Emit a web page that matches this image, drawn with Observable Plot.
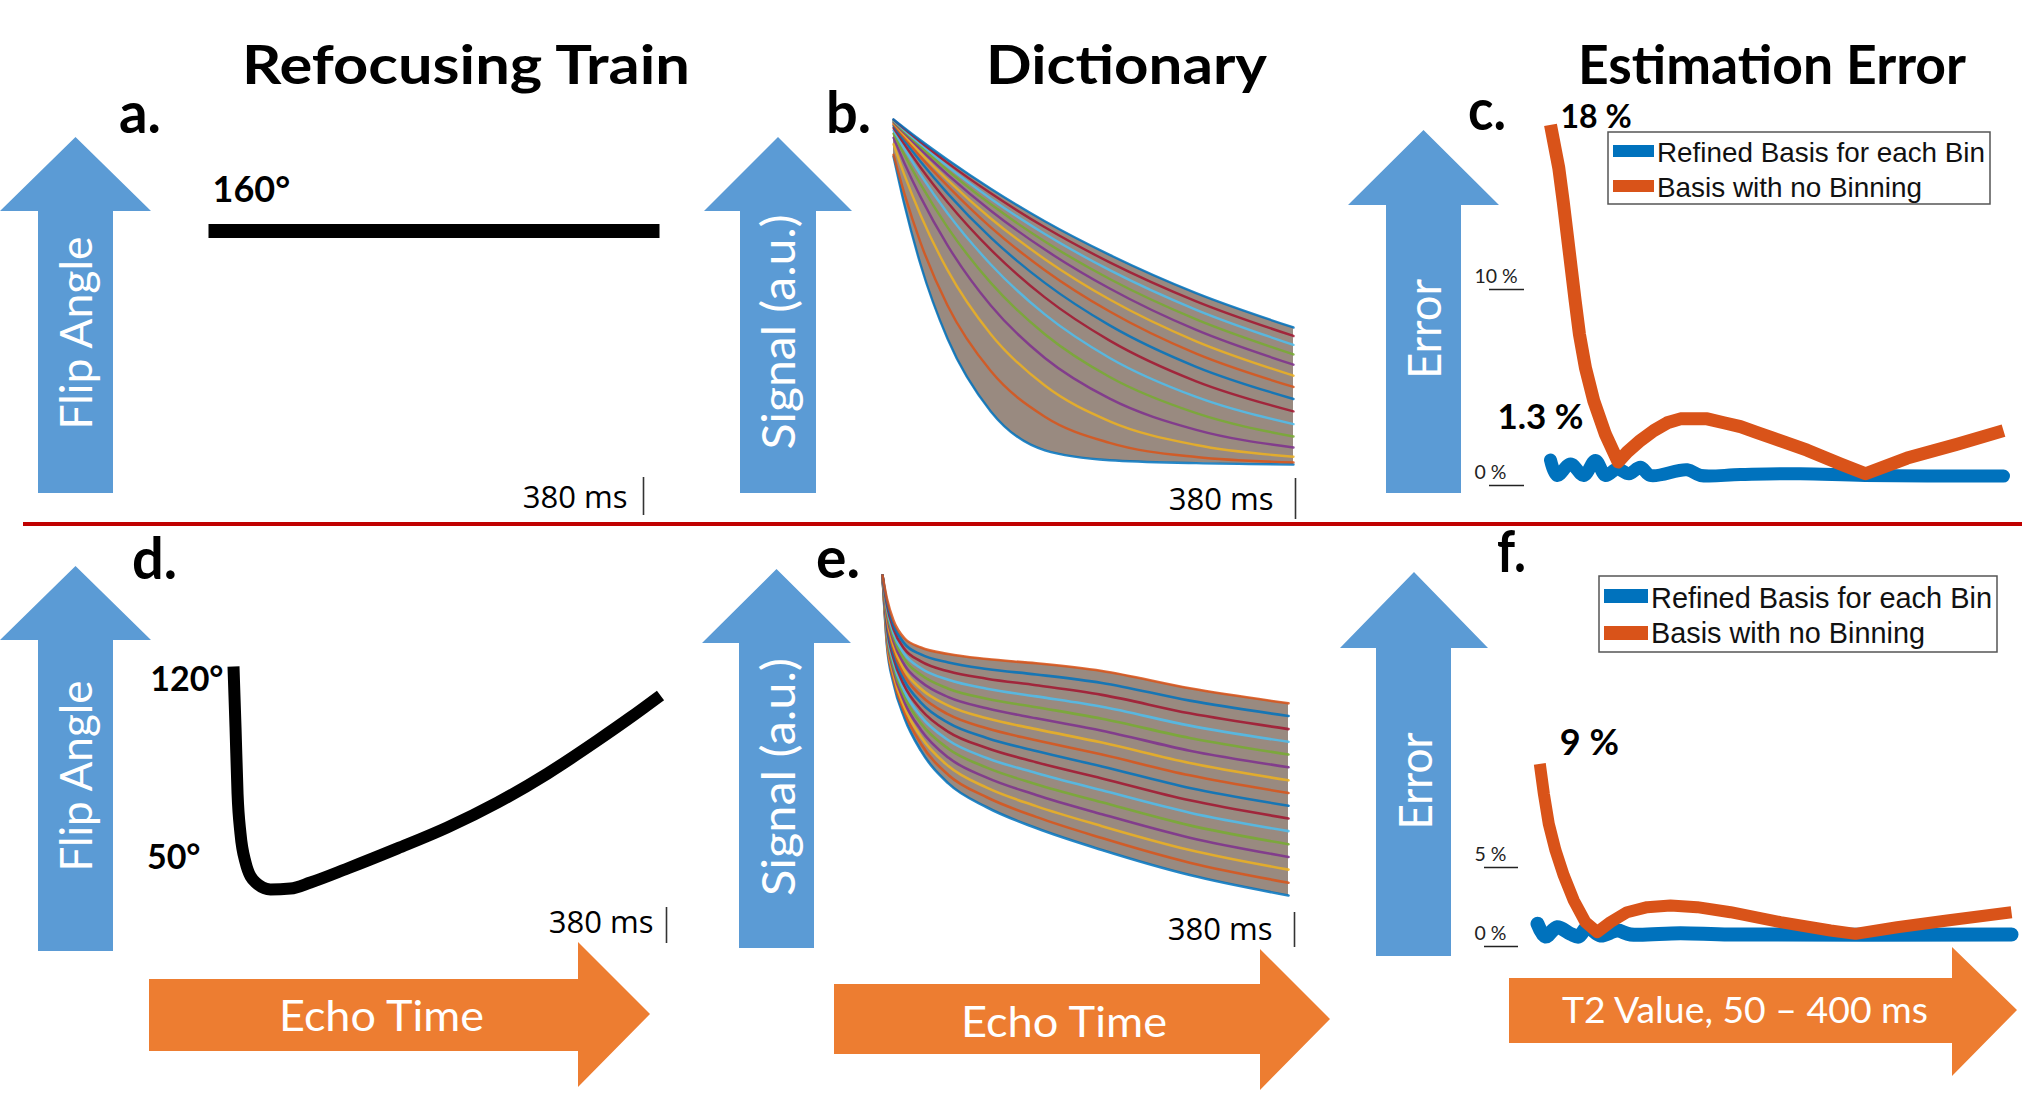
<!DOCTYPE html>
<html>
<head>
<meta charset="utf-8">
<script src="https://cdn.jsdelivr.net/npm/d3@7"></script>
<script src="https://cdn.jsdelivr.net/npm/@observablehq/plot@0.6"></script>
<style>
  html, body { margin: 0; padding: 0; background: #ffffff; }
  #fig { position: relative; width: 2043px; height: 1102px; overflow: hidden; background: #ffffff; }
  #fig > svg { position: absolute; left: 0; top: 0; max-width: none; }
</style>
</head>
<body>
<div id="fig"></div>
<script>
// ---------------- DATA ----------------
// a. constant refocusing train
const echoTimeA = [0, 380];
const flipAngleA = [160, 160];

// d. variable refocusing train
const echoTimeD = [0, 1.8, 3.6, 6.2, 10.7, 19.6, 32.9, 50.7, 68.5, 101.4, 146, 190.4, 235, 279.4, 324, 353.3, 380];
const flipAngleD = [120, 100.9, 80.1, 67.6, 58.5, 52.2, 50, 50.3, 52.2, 56.6, 62.9, 69.5, 77.3, 86.4, 96.8, 104, 110.9];

// b. dictionary for the constant train (one row per T2 entry, 50 .. 400 ms)
const dictTimesB = [10, 20, 35, 60, 100, 150, 210, 290, 380];
const dictCurvesB = [
  [0.870, 0.735, 0.565, 0.355, 0.150, 0.040, 0.012, 0.004, 0.000],
  [0.875, 0.766, 0.627, 0.449, 0.264, 0.135, 0.061, 0.021, 0.006],
  [0.905, 0.819, 0.705, 0.549, 0.368, 0.223, 0.122, 0.055, 0.022],
  [0.923, 0.852, 0.756, 0.619, 0.449, 0.301, 0.186, 0.098, 0.048],
  [0.935, 0.875, 0.792, 0.670, 0.513, 0.368, 0.247, 0.145, 0.079],
  [0.944, 0.892, 0.819, 0.710, 0.565, 0.424, 0.301, 0.191, 0.114],
  [0.951, 0.905, 0.839, 0.741, 0.607, 0.472, 0.350, 0.235, 0.150],
  [0.957, 0.915, 0.856, 0.766, 0.641, 0.513, 0.393, 0.276, 0.185],
  [0.961, 0.923, 0.869, 0.787, 0.670, 0.549, 0.432, 0.313, 0.219],
  [0.964, 0.930, 0.880, 0.804, 0.695, 0.580, 0.466, 0.348, 0.251],
  [0.967, 0.936, 0.890, 0.819, 0.717, 0.607, 0.497, 0.380, 0.282],
  [0.970, 0.940, 0.898, 0.831, 0.735, 0.630, 0.524, 0.410, 0.311],
  [0.972, 0.944, 0.905, 0.842, 0.751, 0.651, 0.549, 0.437, 0.338],
  [0.974, 0.948, 0.911, 0.852, 0.766, 0.670, 0.571, 0.461, 0.363],
  [0.975, 0.951, 0.916, 0.861, 0.779, 0.687, 0.592, 0.484, 0.387]
];

// e. dictionary for the variable train
const dictTimesE = [10, 14, 20, 30, 45, 70, 105, 150, 210, 290, 380];
const dictCurvesE = [
  [1, 0.820, 0.720, 0.630, 0.545, 0.460, 0.398, 0.344, 0.287, 0.222, 0.169],
  [1, 0.828, 0.731, 0.644, 0.563, 0.482, 0.424, 0.373, 0.318, 0.254, 0.202],
  [1, 0.836, 0.742, 0.658, 0.581, 0.505, 0.449, 0.401, 0.349, 0.287, 0.236],
  [1, 0.844, 0.753, 0.671, 0.599, 0.527, 0.475, 0.430, 0.380, 0.319, 0.269],
  [1, 0.852, 0.763, 0.685, 0.616, 0.550, 0.501, 0.458, 0.411, 0.351, 0.302],
  [1, 0.860, 0.774, 0.699, 0.634, 0.572, 0.526, 0.487, 0.442, 0.384, 0.336],
  [1, 0.868, 0.785, 0.713, 0.652, 0.594, 0.552, 0.515, 0.473, 0.416, 0.369],
  [1, 0.876, 0.796, 0.727, 0.670, 0.617, 0.578, 0.544, 0.504, 0.448, 0.402],
  [1, 0.884, 0.807, 0.740, 0.688, 0.639, 0.603, 0.572, 0.535, 0.481, 0.435],
  [1, 0.892, 0.818, 0.754, 0.706, 0.662, 0.629, 0.601, 0.566, 0.513, 0.468],
  [1, 0.900, 0.829, 0.768, 0.724, 0.684, 0.655, 0.629, 0.597, 0.545, 0.502],
  [1, 0.908, 0.840, 0.782, 0.742, 0.706, 0.680, 0.658, 0.628, 0.578, 0.535],
  [1, 0.916, 0.850, 0.796, 0.759, 0.729, 0.706, 0.686, 0.659, 0.610, 0.568],
  [1, 0.924, 0.861, 0.809, 0.777, 0.751, 0.732, 0.715, 0.690, 0.642, 0.601],
  [1, 0.932, 0.872, 0.823, 0.795, 0.774, 0.757, 0.743, 0.721, 0.675, 0.635],
  [1, 0.940, 0.883, 0.837, 0.813, 0.796, 0.783, 0.772, 0.752, 0.707, 0.668]
];

// c. estimation error, constant train (T2 in ms, error in %)
const t2RefinedC = [50, 55.2, 65.5, 75.7, 84.8, 92.5, 101.5, 110.5, 119.5, 127.3, 155.6, 165.9, 196.8, 243, 293, 400];
const errRefinedC = [1.3, 0.51, 1.1, 0.51, 1.28, 0.51, 0.85, 0.6, 0.93, 0.51, 0.8, 0.51, 0.56, 0.6, 0.51, 0.48];
const t2NoBinC = [50, 56.4, 59.8, 62.9, 66, 69.1, 72.4, 77, 83.5, 92.5, 102.3, 109.2, 119.5, 129.8, 140.2, 150.4, 160.7, 171.1, 183.9, 196.8, 209.7, 222.5, 248.3, 274.1, 293.4, 325.6, 364.2, 400];
const errNoBinC = [18.4, 16.2, 14.5, 12.8, 11.1, 9.4, 7.7, 6.0, 4.3, 2.6, 1.2, 1.7, 2.3, 2.8, 3.2, 3.4, 3.4, 3.4, 3.2, 3.0, 2.7, 2.4, 1.8, 1.1, 0.6, 1.4, 2.1, 2.8];

// f. estimation error, variable train
const t2RefinedF = [50, 55.9, 64.5, 74.4, 80.5, 86.7, 96.5, 108.9, 118.7, 155.6, 192.5, 400];
const errRefinedF = [1.44, 0.63, 1.22, 0.8, 0.63, 1.22, 0.7, 1.01, 0.76, 0.84, 0.76, 0.76];
const t2NoBinF = [51.7, 54.7, 58.3, 63.3, 69.4, 76.8, 85.4, 94.1, 103.9, 116.2, 131, 148.2, 167.9, 192.5, 229.4, 266.4, 284.8, 315.6, 352.5, 400];
const errNoBinF = [11.56, 9.66, 7.77, 6.08, 4.49, 2.91, 1.54, 0.91, 1.54, 2.17, 2.49, 2.59, 2.49, 2.17, 1.54, 1.01, 0.8, 1.22, 1.65, 2.17];

// labels
const seriesNames = ["Refined Basis for each Bin", "Basis with no Binning"];
const seriesColors = ["#0072BD", "#D95319"];
const dictColors = ["#0072BD", "#D95319", "#EDB120", "#7E2F8E", "#77AC30", "#4DBEEE", "#A2142F"];
const columnTitles = ["Refocusing Train", "Dictionary", "Estimation Error"];
const panelLetters = ["a.", "b.", "c.", "d.", "e.", "f."];
const verticalNames = ["Flip Angle", "Signal (a.u.)", "Error"];
const horizontalNames = ["Echo Time", "Echo Time", "T2 Value, 50 – 400 ms"];
const echoTicks = [380];
const errTicksC = [0, 10];
const errTicksF = [0, 5];
const peakLabelsC = ["18 %", "1.3 %"];
const peakLabelsF = ["9 %"];

// ---------------- DRAWING ----------------
const W = 2043, H = 1102;
const fig = document.getElementById("fig");
const FONT = "Lato";

function canvas(x0, x1, yTop, yBottom) {
  return {
    width: W, height: H,
    marginLeft: x0, marginRight: W - x1, marginTop: yTop, marginBottom: H - yBottom,
    style: {background: "transparent", overflow: "visible"}
  };
}
function add(svg) {
  svg.style.position = "absolute";
  svg.style.left = "0px";
  svg.style.top = "0px";
  fig.appendChild(svg);
}
function echoTick(dx, dy, size) {
  return Plot.axisX({ticks: echoTicks, tickSize: size, tickFormat: () => "", label: null, dx, dy, stroke: "#333", strokeWidth: 1.6});
}
function echoLabel(dx, dy) {
  return Plot.text(echoTicks, {x: d => d, frameAnchor: "bottom", text: d => `${d} ms`, textAnchor: "end",
    lineAnchor: "bottom", dx, dy, fontSize: 31, fontFamily: "Open Sans", fill: "#000"});
}
function rows(times, curves) {
  return curves.flatMap((c, k) => c.map((s, i) => ({t: times[i], s, k})));
}
function band(times, curves) {
  return times.map((t, i) => ({t, lo: curves[0][i], hi: curves[curves.length - 1][i]}));
}
function pts(xs, ys) { return xs.map((x, i) => ({x, y: ys[i]})); }

// ---- panel a
add(Plot.plot({
  ...canvas(208, 659, 230.5, 515),
  x: {domain: [0, 380]},
  y: {domain: [0, 160], axis: null},
  marks: [
    Plot.line(pts(echoTimeA, flipAngleA), {x: "x", y: "y", stroke: "#000", strokeWidth: 14, strokeLinecap: "butt"}),
    Plot.text([0], {x: i => echoTimeA[i], y: i => flipAngleA[i], text: i => `${flipAngleA[i]}°`, textAnchor: "start",
      lineAnchor: "bottom", dx: 4, dy: -29, fontSize: 36, fontWeight: "bold", fontFamily: FONT, fill: "#000"}),
    echoTick(-16, -38, 38),
    echoLabel(-32, -8)
  ]
}));

// ---- panel d
add(Plot.plot({
  ...canvas(233, 660, 666, 889),
  x: {domain: [0, 380]},
  y: {domain: [50, 120], axis: null},
  marks: [
    Plot.line(pts(echoTimeD, flipAngleD), {x: "x", y: "y", stroke: "#000", strokeWidth: 12, strokeLinecap: "butt", curve: "monotone-x"}),
    Plot.text([0], {x: i => echoTimeD[i], y: i => flipAngleD[i], text: i => `${flipAngleD[i]}°`, textAnchor: "end",
      lineAnchor: "top", dx: -10, dy: 0, fontSize: 34, fontWeight: "bold", fontFamily: FONT, fill: "#000"}),
    Plot.text([d3.min(flipAngleD)], {x: echoTimeD[0], y: d => d, text: d => `${d}°`, textAnchor: "end",
      lineAnchor: "bottom", dx: -33, dy: -21, fontSize: 34, fontWeight: "bold", fontFamily: FONT, fill: "#000"}),
    echoTick(6, 18, 36),
    echoLabel(-7, 43)
  ]
}));

// ---- panel b
add(Plot.plot({
  ...canvas(893, 1293, 110, 464),
  x: {domain: [10, 380]},
  y: {domain: [0, 1], axis: null},
  color: {type: "identity"},
  marks: [
    Plot.areaY(band(dictTimesB, dictCurvesB), {x: "t", y1: "lo", y2: "hi", fill: "#998a80", curve: "monotone-x"}),
    Plot.line(rows(dictTimesB, dictCurvesB), {x: "t", y: "s", z: "k", stroke: d => dictColors[d.k % 7],
      strokeWidth: 2.4, strokeOpacity: 0.85, curve: "monotone-x"}),
    echoTick(2, 14, 41),
    echoLabel(-20, 45)
  ]
}));

// ---- panel e
add(Plot.plot({
  ...canvas(882, 1288, 575, 960),
  x: {domain: [10, 380]},
  y: {domain: [0, 1], axis: null},
  color: {type: "identity"},
  marks: [
    Plot.areaY(band(dictTimesE, dictCurvesE), {x: "t", y1: "lo", y2: "hi", fill: "#998a80", curve: "monotone-x"}),
    Plot.line(rows(dictTimesE, dictCurvesE), {x: "t", y: "s", z: "k", stroke: d => dictColors[d.k % 7],
      strokeWidth: 2.6, strokeOpacity: 0.85, curve: "monotone-x"}),
    echoTick(6, -48, 35),
    echoLabel(-16, -21)
  ]
}));

// ---- panel c
add(Plot.plot({
  ...canvas(1550, 2003, 93, 485),
  x: {domain: [50, 400], axis: null},
  y: {domain: [0, 20]},
  marks: [
    Plot.axisY({ticks: errTicksC, tickSize: 35, tickFormat: () => "", label: null, dx: -26, stroke: "#222", strokeWidth: 1.3}),
    Plot.text(errTicksC, {y: d => d, frameAnchor: "left", text: d => `${d} %`, textAnchor: "start", lineAnchor: "bottom",
      dx: -76, dy: -7, fontSize: 19.5, fontFamily: FONT, fill: "#222"}),
    Plot.line(pts(t2RefinedC, errRefinedC), {x: "x", y: "y", stroke: seriesColors[0], strokeWidth: 13, curve: "catmull-rom"}),
    Plot.line(pts(t2NoBinC, errNoBinC), {x: "x", y: "y", stroke: seriesColors[1], strokeWidth: 13, strokeLinecap: "butt", strokeLinejoin: "round"}),
    Plot.text([0], {x: i => t2NoBinC[i], y: i => errNoBinC[i], text: () => peakLabelsC[0], textAnchor: "start",
      lineAnchor: "bottom", dx: 10, dy: 3, fontSize: 32, fontWeight: "bold", fontFamily: FONT, fill: "#000"}),
    Plot.text([0], {x: i => t2RefinedC[i], y: i => errRefinedC[i], text: () => peakLabelsC[1], textAnchor: "end",
      lineAnchor: "bottom", dx: 33, dy: -31, fontSize: 35, fontWeight: "bold", fontFamily: FONT, fill: "#000"})
  ]
}));

// ---- panel f
add(Plot.plot({
  ...canvas(1537, 2011, 756.4, 946),
  x: {domain: [50, 400], axis: null},
  y: {domain: [0, 12]},
  marks: [
    Plot.axisY({ticks: errTicksF, tickSize: 34, tickFormat: () => "", label: null, dx: -19, stroke: "#222", strokeWidth: 1.3}),
    Plot.text(errTicksF, {y: d => d, frameAnchor: "left", text: d => `${d} %`, textAnchor: "start", lineAnchor: "bottom",
      dx: -63, dy: -7, fontSize: 19.5, fontFamily: FONT, fill: "#222"}),
    Plot.line(pts(t2RefinedF, errRefinedF), {x: "x", y: "y", stroke: seriesColors[0], strokeWidth: 14, curve: "catmull-rom"}),
    Plot.line(pts(t2NoBinF, errNoBinF), {x: "x", y: "y", stroke: seriesColors[1], strokeWidth: 12, strokeLinecap: "butt", strokeLinejoin: "round"}),
    Plot.text([0], {x: i => t2NoBinF[i], y: i => errNoBinF[i], text: () => peakLabelsF[0], textAnchor: "start",
      lineAnchor: "bottom", dx: 20, dy: -9, fontSize: 36, fontWeight: "bold", fontFamily: FONT, fill: "#000"})
  ]
}));

// ---------------- DECORATION (arrows, titles, legends) ----------------
const ov = d3.create("svg").attr("width", W).attr("height", H);
ov.append("line").attr("x1", 23).attr("x2", 2022).attr("y1", 524).attr("y2", 524)
  .attr("stroke", "#C00000").attr("stroke-width", 4);

const upArrows = [
  [38, 113, 0, 151, 137, 211, 493],
  [740, 816, 704, 852, 137, 211, 493],
  [1386, 1461, 1348, 1499, 130, 205, 493],
  [38, 113, 0, 151, 566, 640, 951],
  [739, 814, 702, 851, 569, 643, 948],
  [1376, 1451, 1340, 1488, 572, 648, 956]
];
for (const [sl, sr, hl, hr, tip, base, bot] of upArrows) {
  const tx = (hl + hr) / 2;
  ov.append("polygon")
    .attr("points", [[tx, tip], [hr, base], [sr, base], [sr, bot], [sl, bot], [sl, base], [hl, base]].join(" "))
    .attr("fill", "#5B9BD5");
}
const rightArrows = [
  [149, 979, 1051, 578, 942, 1087, 650, 1014],
  [834, 984, 1054, 1260, 949, 1090, 1330, 1019],
  [1509, 978, 1043, 1952, 947, 1076, 2017, 1010]
];
for (const [sl, st, sb, hx, ht, hb, tipx, tipy] of rightArrows) {
  ov.append("polygon")
    .attr("points", [[sl, st], [hx, st], [hx, ht], [tipx, tipy], [hx, hb], [hx, sb], [sl, sb]].join(" "))
    .attr("fill", "#ED7D31");
}

function txt(s, x, y, o = {}) {
  const t = ov.append("text").attr("x", x).attr("y", y)
    .attr("font-family", o.family || FONT)
    .attr("font-size", o.size || 20)
    .attr("font-weight", o.weight || "normal")
    .attr("fill", o.fill || "#000")
    .attr("text-anchor", o.anchor || "start")
    .text(s);
  if (o.len) t.attr("textLength", o.len).attr("lengthAdjust", "spacingAndGlyphs");
  if (o.rotate) t.attr("transform", `rotate(-90 ${x} ${y})`);
  return t;
}

// column titles
txt(columnTitles[0], 242, 84, {size: 54, weight: "bold", len: 448});
txt(columnTitles[1], 986, 84, {size: 54, weight: "bold", len: 281});
txt(columnTitles[2], 1578, 84, {size: 54, weight: "bold", len: 388});

// panel letters
const letterPos = [[119, 133, 42], [826, 133, 45], [1468, 130, 38], [132, 579, 45], [816, 578, 44], [1497, 572, 29]];
panelLetters.forEach((l, i) => txt(l, letterPos[i][0], letterPos[i][1], {size: 58, weight: "bold", len: letterPos[i][2]}));

// vertical arrow labels
txt(verticalNames[0], 92, 333, {size: 44, fill: "#fff", anchor: "middle", rotate: true, len: 193});
txt(verticalNames[1], 795, 332, {size: 46, fill: "#fff", anchor: "middle", rotate: true, len: 235});
txt(verticalNames[2], 1441, 329, {size: 46, fill: "#fff", anchor: "middle", rotate: true, len: 100});
txt(verticalNames[0], 92, 776, {size: 44, fill: "#fff", anchor: "middle", rotate: true, len: 191});
txt(verticalNames[1], 795, 777, {size: 46, fill: "#fff", anchor: "middle", rotate: true, len: 238});
txt(verticalNames[2], 1432, 781, {size: 46, fill: "#fff", anchor: "middle", rotate: true, len: 97});

// horizontal arrow labels
txt(horizontalNames[0], 279, 1031, {size: 42, fill: "#fff", len: 205});
txt(horizontalNames[1], 961, 1037, {size: 42, fill: "#fff", len: 206});
txt(horizontalNames[2], 1562, 1023, {size: 36, fill: "#fff", len: 366});

// legends
function legend(x, y, w, h, sw, swH, rowsY, textX, baselines, lens, size) {
  ov.append("rect").attr("x", x).attr("y", y).attr("width", w).attr("height", h)
    .attr("fill", "#fff").attr("stroke", "#555").attr("stroke-width", 1.5);
  seriesNames.forEach((name, i) => {
    ov.append("rect").attr("x", x + 5).attr("y", rowsY[i]).attr("width", sw).attr("height", swH).attr("fill", seriesColors[i]);
    txt(name, textX, baselines[i], {size, family: "Liberation Sans", fill: "#111", len: lens[i]});
  });
}
legend(1608, 132, 382, 72, 41, 12, [145, 180], 1657, [162, 197], [328, 265], 28);
legend(1599, 576, 398, 76, 44, 14, [589, 626], 1651, [608, 643], [341, 274], 29);

fig.appendChild(ov.node());
</script>
</body>
</html>
